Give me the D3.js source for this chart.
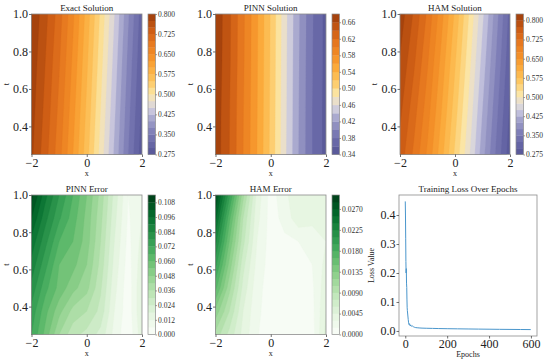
<!DOCTYPE html>
<html><head><meta charset="utf-8">
<script src="https://cdn.jsdelivr.net/npm/d3@7"></script>
<style>body{margin:0;background:#fff}svg{display:block;font-family:"Liberation Serif","Times New Roman",serif}</style>
</head><body><svg id="c" width="550" height="364"></svg>
<script>
// ---------- data ----------
const xGrid = [-2, -1.5, -1, -0.5, 0, 0.5, 1, 1.5, 2];
const tGridSol = [1.0, 0.75, 0.5, 0.25];           // rows, top to bottom
const tGridErr = [1.0, 0.875, 0.75, 0.625, 0.5, 0.375, 0.25];

const exactValues = [
  [0.798, 0.758, 0.712, 0.655, 0.590, 0.520, 0.450, 0.378, 0.310],
  [0.792, 0.750, 0.703, 0.645, 0.580, 0.510, 0.440, 0.368, 0.302],
  [0.786, 0.743, 0.694, 0.635, 0.570, 0.500, 0.430, 0.359, 0.294],
  [0.780, 0.735, 0.685, 0.625, 0.560, 0.490, 0.420, 0.350, 0.285]
];
const pinnValues = [
  [0.676, 0.644, 0.604, 0.563, 0.518, 0.468, 0.423, 0.382, 0.353],
  [0.675, 0.643, 0.603, 0.562, 0.517, 0.467, 0.422, 0.381, 0.353],
  [0.673, 0.641, 0.601, 0.561, 0.516, 0.466, 0.421, 0.380, 0.352],
  [0.672, 0.640, 0.600, 0.560, 0.515, 0.465, 0.420, 0.380, 0.352]
];
const hamValues = [
  [0.815, 0.772, 0.720, 0.660, 0.595, 0.525, 0.455, 0.385, 0.315],
  [0.798, 0.755, 0.703, 0.643, 0.578, 0.510, 0.440, 0.372, 0.305],
  [0.782, 0.737, 0.687, 0.627, 0.562, 0.495, 0.425, 0.358, 0.295],
  [0.765, 0.720, 0.670, 0.610, 0.545, 0.480, 0.410, 0.345, 0.285]
];
const pinnErrValues = [
  [0.110, 0.092, 0.078, 0.066, 0.054, 0.040, 0.022, 0.006, 0.010],
  [0.102, 0.086, 0.073, 0.063, 0.052, 0.038, 0.020, 0.005, 0.012],
  [0.094, 0.080, 0.066, 0.060, 0.051, 0.036, 0.018, 0.004, 0.014],
  [0.088, 0.074, 0.060, 0.056, 0.048, 0.034, 0.016, 0.003, 0.016],
  [0.082, 0.068, 0.058, 0.050, 0.044, 0.031, 0.014, 0.002, 0.018],
  [0.076, 0.062, 0.050, 0.040, 0.036, 0.028, 0.012, 0.002, 0.018],
  [0.072, 0.058, 0.042, 0.032, 0.028, 0.022, 0.010, 0.001, 0.016]
];
const hamErrValues = [
  [0.0290, 0.0200, 0.0110, 0.0040, 0.0008, 0.0025, 0.0045, 0.0040, 0.0030],
  [0.0260, 0.0170, 0.0090, 0.0035, 0.0008, 0.0020, 0.0040, 0.0035, 0.0030],
  [0.0230, 0.0150, 0.0080, 0.0030, 0.0008, 0.0012, 0.0015, 0.0020, 0.0030],
  [0.0200, 0.0130, 0.0065, 0.0025, 0.0008, 0.0008, 0.0010, 0.0015, 0.0035],
  [0.0170, 0.0110, 0.0055, 0.0020, 0.0008, 0.0006, 0.0008, 0.0012, 0.0040],
  [0.0130, 0.0090, 0.0045, 0.0018, 0.0008, 0.0005, 0.0006, 0.0010, 0.0045],
  [0.0100, 0.0070, 0.0040, 0.0016, 0.0008, 0.0004, 0.0005, 0.0008, 0.0050]
];

// contour levels [min, max, step] and colorbar ticks
const exactLevels = [0.275, 0.800, 0.025];
const pinnLevels = [0.34, 0.68, 0.02];
const hamLevels = [0.275, 0.825, 0.025];
const pinnErrLevels = [0.0, 0.114, 0.006];
const hamErrLevels = [0.0, 0.030, 0.0015];
const exactTicks = [0.275, 0.350, 0.425, 0.500, 0.575, 0.650, 0.725, 0.800];
const pinnTicks = [0.34, 0.38, 0.42, 0.46, 0.50, 0.54, 0.58, 0.62, 0.66];
const hamTicks = [0.275, 0.350, 0.425, 0.500, 0.575, 0.650, 0.725, 0.800];
const pinnErrTicks = [0.000, 0.012, 0.024, 0.036, 0.048, 0.060, 0.072, 0.084, 0.096, 0.108];
const hamErrTicks = [0.0000, 0.0045, 0.0090, 0.0135, 0.0180, 0.0225, 0.0270];

const lossEpochs = [0,1,2,3,4,5,6,7,8,9,10,12,14,16,18,20,22,24,26,28,30,35,40,45,50,60,70,80,100,130,160,200,250,300,350,400,450,500,550,599];
const lossValues = [0.447,0.40,0.32,0.24,0.20,0.215,0.165,0.15,0.11,0.08,0.07,0.055,0.04,0.028,0.022,0.025,0.020,0.017,0.021,0.018,0.016,0.017,0.014,0.0125,0.0115,0.0108,0.0102,0.0098,0.0093,0.0088,0.0083,0.0078,0.0073,0.0068,0.0064,0.0060,0.0056,0.0053,0.0050,0.0047];

// ---------- colormaps ----------
const solStops = [0, 0.05, 0.14, 0.24, 0.29, 0.33, 0.38, 0.43, 0.52, 0.62, 0.71, 0.81, 0.90, 1.0];
const solColors = ["#5a5a9a","#6565a4","#7d7db6","#a4a4cc","#c2c0dc","#d8d5dc","#ece0c8","#fbe5a4","#fdc862","#fbab3c","#f49028","#e6781f","#cf5e15","#a6430d"];
const solCmap = d3.scaleLinear().domain(solStops).range(solColors).interpolate(d3.interpolateRgb);
const greenCmap = d3.interpolateGreens;

const svg = d3.select("#c");
const spine = "#8c8c8c";
let clipId = 0;

function levelsOf(spec) {
  const n = Math.round((spec[1] - spec[0]) / spec[2]);
  return d3.range(n + 1).map(i => +(spec[0] + i * spec[2]).toFixed(6));
}

function drawField(cfg) {
  const {L, R, T, B, cbL, cbR, values, tGrid, levelSpec, ticks, fmt, cmap, title} = cfg;
  const g = svg.append("g");
  const x = d3.scaleLinear([-2, 2], [L, R]);
  const y = d3.scaleLinear([0.25, 1], [B, T]);
  const levels = levelsOf(levelSpec);
  const nb = levels.length - 1;
  const bandColor = k => cmap(nb > 1 ? k / (nb - 1) : 0);

  const id = "clip" + (clipId++);
  g.append("clipPath").attr("id", id).append("rect")
    .attr("x", L).attr("y", T).attr("width", R - L).attr("height", B - T);
  const body = g.append("g").attr("clip-path", `url(#${id})`);
  body.append("rect").attr("x", L).attr("y", T).attr("width", R - L).attr("height", B - T)
    .attr("fill", bandColor(0));

  const nx = xGrid.length, ny = tGrid.length;
  const sx = xGrid[1] - xGrid[0], st = tGrid[1] - tGrid[0];
  const flat = values.flat();
  const proj = d3.geoTransform({
    point(px, py) { this.stream.point(x(xGrid[0] + (px - 0.5) * sx), y(tGrid[0] + (py - 0.5) * st)); }
  });
  const path = d3.geoPath(proj);
  const cs = d3.contours().size([nx, ny]).thresholds(levels.slice(1, -1))(flat);
  cs.forEach(c => {
    const k = levels.findIndex(l => Math.abs(l - c.value) < 1e-9);
    body.append("path").attr("d", path(c)).attr("fill", bandColor(k))
      .attr("stroke", bandColor(k)).attr("stroke-width", 0.3);
  });
  g.append("rect").attr("x", L).attr("y", T).attr("width", R - L).attr("height", B - T)
    .attr("fill", "none").attr("stroke", spine).attr("stroke-width", 0.8);

  const ax = g.append("g").attr("transform", `translate(0,${B})`)
    .call(d3.axisBottom(x).tickValues([-2, 0, 2]).tickSize(2.5).tickPadding(1)
      .tickFormat(d => d < 0 ? "\u2212" + (-d) : String(d)));
  const ay = g.append("g").attr("transform", `translate(${L},0)`)
    .call(d3.axisLeft(y).tickValues([0.4, 0.6, 0.8, 1.0]).tickSize(2.5).tickPadding(1)
      .tickFormat(d3.format(".1f")));
  [ax, ay].forEach(a => {
    a.select(".domain").remove();
    a.selectAll("line").attr("stroke", "#333").attr("stroke-width", 0.7);
    a.selectAll("text").attr("font-size", 12).attr("fill", "#222")
      .attr("font-family", '"Liberation Serif", serif');
  });
  g.append("text").attr("x", (L + R) / 2).attr("y", T - 3).attr("text-anchor", "middle")
    .attr("font-size", 9).attr("fill", "#222").text(title);
  g.append("text").attr("x", (L + R) / 2).attr("y", B + 21).attr("text-anchor", "middle")
    .attr("font-size", 8).attr("fill", "#222").text("x");
  g.append("text").attr("transform", `translate(${L - 23},${(T + B) / 2}) rotate(-90)`)
    .attr("text-anchor", "middle").attr("font-size", 8).attr("fill", "#222").text("t");

  // colorbar
  const cy = d3.scaleLinear([levels[0], levels[nb]], [B, T]);
  for (let k = 0; k < nb; k++) {
    g.append("rect").attr("x", cbL).attr("width", cbR - cbL)
      .attr("y", cy(levels[k + 1])).attr("height", cy(levels[k]) - cy(levels[k + 1]) + 0.3)
      .attr("fill", bandColor(k));
  }
  g.append("rect").attr("x", cbL).attr("y", T).attr("width", cbR - cbL).attr("height", B - T)
    .attr("fill", "none").attr("stroke", spine).attr("stroke-width", 0.7);
  const ac = g.append("g").attr("transform", `translate(${cbR},0)`)
    .call(d3.axisRight(cy).tickValues(ticks).tickSize(1.5).tickPadding(1).tickFormat(d3.format(fmt)));
  ac.select(".domain").remove();
  ac.selectAll("line").attr("stroke", "#555").attr("stroke-width", 0.6);
  ac.selectAll("text").attr("font-size", 7.5).attr("fill", "#333")
    .attr("font-family", '"Liberation Serif", serif');
}

const rowTop = {T: 14, B: 154.5};
const rowBot = {T: 195, B: 334.5};
drawField({L: 31.5, R: 142, cbL: 148, cbR: 155.5, ...rowTop, values: exactValues, tGrid: tGridSol,
  levelSpec: exactLevels, ticks: exactTicks, fmt: ".3f", cmap: solCmap, title: "Exact Solution"});
drawField({L: 215.5, R: 326, cbL: 332, cbR: 339.5, ...rowTop, values: pinnValues, tGrid: tGridSol,
  levelSpec: pinnLevels, ticks: pinnTicks, fmt: ".2f", cmap: solCmap, title: "PINN Solution"});
drawField({L: 400, R: 510, cbL: 516, cbR: 523.5, ...rowTop, values: hamValues, tGrid: tGridSol,
  levelSpec: hamLevels, ticks: hamTicks, fmt: ".3f", cmap: solCmap, title: "HAM Solution"});
drawField({L: 31.5, R: 142, cbL: 148, cbR: 155.5, ...rowBot, values: pinnErrValues, tGrid: tGridErr,
  levelSpec: pinnErrLevels, ticks: pinnErrTicks, fmt: ".3f", cmap: greenCmap, title: "PINN Error"});
drawField({L: 215.5, R: 326, cbL: 332, cbR: 339.5, ...rowBot, values: hamErrValues, tGrid: tGridErr,
  levelSpec: hamErrLevels, ticks: hamErrTicks, fmt: ".4f", cmap: greenCmap, title: "HAM Error"});

// ---------- loss plot ----------
(function () {
  const L = 399, R = 537, T = 195, B = 336;
  const g = svg.append("g");
  const x = d3.scaleLinear([-29.95, 628.95], [L, R]);
  const yMax = d3.max(lossValues), yMin = d3.min(lossValues), pad = (yMax - yMin) * 0.05;
  const y = d3.scaleLinear([yMin - pad, yMax + pad], [B, T]);
  g.append("rect").attr("x", L).attr("y", T).attr("width", R - L).attr("height", B - T)
    .attr("fill", "none").attr("stroke", spine).attr("stroke-width", 0.8);
  g.append("path").datum(lossEpochs.map((e, i) => [e, lossValues[i]]))
    .attr("d", d3.line().x(d => x(d[0])).y(d => y(d[1])))
    .attr("fill", "none").attr("stroke", "#4a96cc").attr("stroke-width", 1);
  const ax = g.append("g").attr("transform", `translate(0,${B})`)
    .call(d3.axisBottom(x).tickValues([0, 200, 400, 600]).tickSize(2.5).tickPadding(1).tickFormat(d3.format("d")));
  const ay = g.append("g").attr("transform", `translate(${L},0)`)
    .call(d3.axisLeft(y).tickValues([0, 0.1, 0.2, 0.3, 0.4]).tickSize(2.5).tickPadding(1).tickFormat(d3.format(".1f")));
  [ax, ay].forEach(a => {
    a.select(".domain").remove();
    a.selectAll("line").attr("stroke", "#333").attr("stroke-width", 0.7);
    a.selectAll("text").attr("font-size", 12).attr("fill", "#222")
      .attr("font-family", '"Liberation Serif", serif');
  });
  g.append("text").attr("x", (L + R) / 2).attr("y", T - 3).attr("text-anchor", "middle")
    .attr("font-size", 9).attr("fill", "#222").text("Training Loss Over Epochs");
  g.append("text").attr("x", (L + R) / 2).attr("y", B + 21).attr("text-anchor", "middle")
    .attr("font-size", 8).attr("fill", "#222").text("Epochs");
  g.append("text").attr("transform", `translate(${L - 25},${(T + B) / 2}) rotate(-90)`)
    .attr("text-anchor", "middle").attr("font-size", 8).attr("fill", "#222").text("Loss Value");
})();
</script></body></html>
